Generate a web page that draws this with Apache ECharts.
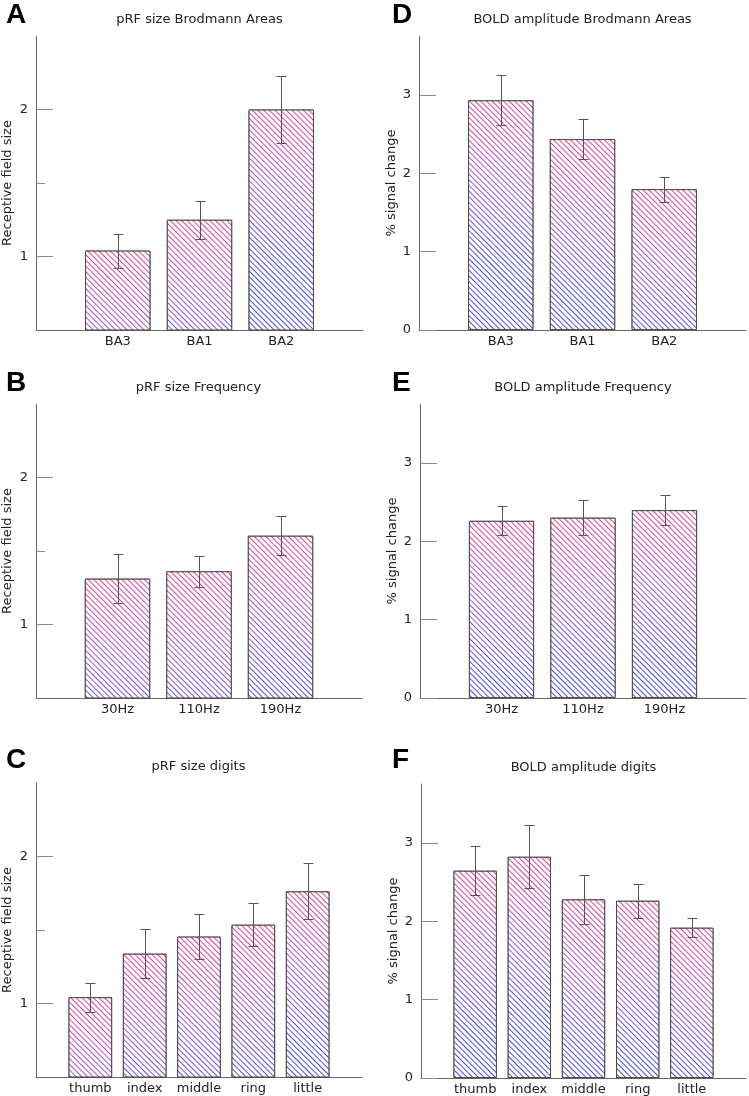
<!DOCTYPE html>
<html>
<head>
<meta charset="utf-8">
<script src="https://cdn.jsdelivr.net/npm/echarts@6/dist/echarts.min.js"></script>
<style>
  html, body { margin: 0; padding: 0; background: #fff; }
  #chart { width: 749px; height: 1096px; }
</style>
</head>
<body>
<div id="chart"></div>
<script>
// ---------- data ----------
const catsBA = ['BA3', 'BA1', 'BA2'];
const catsFreq = ['30Hz', '110Hz', '190Hz'];
const catsDigits = ['thumb', 'index', 'middle', 'ring', 'little'];

const prfBA = [1.04, 1.25, 2.0];
const prfBALo = [0.92, 1.12, 1.77];
const prfBAHi = [1.155, 1.375, 2.23];

const boldBA = [2.93, 2.435, 1.797];
const boldBALo = [2.61, 2.18, 1.635];
const boldBAHi = [3.256, 2.69, 1.954];

const prfFreq = [1.312, 1.362, 1.604];
const prfFreqLo = [1.149, 1.256, 1.473];
const prfFreqHi = [1.48, 1.466, 1.735];

const boldFreq = [2.26, 2.30, 2.396];
const boldFreqLo = [2.077, 2.082, 2.21];
const boldFreqHi = [2.452, 2.524, 2.584];

const prfDig = [1.043, 1.339, 1.455, 1.536, 1.763];
const prfDigLo = [0.942, 1.172, 1.301, 1.389, 1.573];
const prfDigHi = [1.138, 1.505, 1.611, 1.681, 1.959];

const boldDig = [2.644, 2.822, 2.278, 2.261, 1.917];
const boldDigLo = [2.333, 2.427, 1.963, 2.036, 1.794];
const boldDigHi = [2.953, 3.225, 2.593, 2.478, 2.045];

const prfTickLabels = [1, 2];
const prfMinorTicks = [1.5];
const boldTickLabels = [0, 1, 2, 3];

// ---------- layout ----------
const FONT = 'DejaVu Sans';
const panels = [
  { letter: 'A', title: 'pRF size Brodmann Areas', yName: 'Receptive field size',
    cats: catsBA, vals: prfBA, lo: prfBALo, hi: prfBAHi, yMin: 0.5, yMax: 2.5,
    ticks: prfTickLabels, minor: prfMinorTicks,
    grid: { left: 36, top: 36, width: 327, height: 294 }, titleY: 20, letterY: 15, nameGap: 22 },
  { letter: 'D', title: 'BOLD amplitude Brodmann Areas', yName: '% signal change',
    cats: catsBA, vals: boldBA, lo: boldBALo, hi: boldBAHi, yMin: 0, yMax: 3.75,
    ticks: boldTickLabels, minor: [],
    grid: { left: 419, top: 36, width: 327, height: 294 }, titleY: 20, letterY: 15, nameGap: 21 },
  { letter: 'B', title: 'pRF size Frequency', yName: 'Receptive field size',
    cats: catsFreq, vals: prfFreq, lo: prfFreqLo, hi: prfFreqHi, yMin: 0.5, yMax: 2.5,
    ticks: prfTickLabels, minor: prfMinorTicks,
    grid: { left: 35, top: 404, width: 327, height: 294 }, titleY: 388, letterY: 383, nameGap: 22 },
  { letter: 'E', title: 'BOLD amplitude Frequency', yName: '% signal change',
    cats: catsFreq, vals: boldFreq, lo: boldFreqLo, hi: boldFreqHi, yMin: 0, yMax: 3.75,
    ticks: boldTickLabels, minor: [],
    grid: { left: 420, top: 404, width: 326, height: 294 }, titleY: 388, letterY: 383, nameGap: 21 },
  { letter: 'C', title: 'pRF size digits', yName: 'Receptive field size',
    cats: catsDigits, vals: prfDig, lo: prfDigLo, hi: prfDigHi, yMin: 0.5, yMax: 2.5,
    ticks: prfTickLabels, minor: prfMinorTicks,
    grid: { left: 35, top: 783, width: 327, height: 294 }, titleY: 767, letterY: 760, nameGap: 22 },
  { letter: 'F', title: 'BOLD amplitude digits', yName: '% signal change',
    cats: catsDigits, vals: boldDig, lo: boldDigLo, hi: boldDigHi, yMin: 0, yMax: 3.75,
    ticks: boldTickLabels, minor: [],
    grid: { left: 421, top: 784, width: 325, height: 294 }, titleY: 768, letterY: 760, nameGap: 21 }
];

const PINK = '#e8409c';
const PURPLE = '#a055d4';
const BLUE = '#4a4ae6';
const GRAD_LEN = 160;  // px over which the hatch colour goes pink -> blue

// white stripes over a gradient fill leave thin coloured diagonal hatch lines
const HATCH_DECAL = {
  symbol: 'rect', symbolSize: 1, color: '#ffffff',
  dashArrayX: [1, 0], dashArrayY: [3, 1], rotation: Math.PI / 4
};

function errorBarRender(params, api) {
  const x = api.value(0), lo = api.value(1), hi = api.value(2);
  const pc = api.coord([x, hi]);
  const pl = api.coord([x, lo]);
  const cx = Math.round(pc[0]) + 0.5;
  const hy = Math.round(pc[1]) + 0.5, ly = Math.round(pl[1]) + 0.5;
  const ew = { stroke: '#555', lineWidth: 1 };
  return { type: 'group', children: [
    { type: 'line', shape: { x1: cx, y1: hy, x2: cx, y2: ly }, style: ew },
    { type: 'line', shape: { x1: cx - 5, y1: hy, x2: cx + 5, y2: hy }, style: ew },
    { type: 'line', shape: { x1: cx - 5, y1: ly, x2: cx + 5, y2: ly }, style: ew }
  ]};
}

const option = {
  animation: false,
  backgroundColor: '#fff',
  grid: [], xAxis: [], yAxis: [], series: [], graphic: []
};

panels.forEach((p, i) => {
  option.grid.push(Object.assign({ containLabel: false }, p.grid));
  const n = p.cats.length;
  option.xAxis.push({
    type: 'value', gridIndex: i, min: 0, max: n + 1, interval: 1,
    axisLine: { show: true, onZero: false, lineStyle: { color: '#666', width: 1 } },
    axisTick: { show: false }, splitLine: { show: false },
    axisLabel: { color: '#222', fontSize: 13, fontFamily: FONT, margin: 5,
      formatter: (val) => p.cats[val - 1] || '' }
  });
  option.yAxis.push({
    type: 'value', gridIndex: i, min: p.yMin, max: p.yMax, position: 'left',
    axisLine: { show: true, onZero: false, lineStyle: { color: '#666', width: 1 } },
    axisTick: { show: true, inside: true, length: 17, customValues: p.ticks,
      lineStyle: { color: '#8a8a8a', width: 1 } },
    axisLabel: { customValues: p.ticks, color: '#222', fontSize: 13, fontFamily: FONT, margin: 8 },
    splitLine: { show: false },
    name: p.yName, nameLocation: 'middle', nameGap: p.nameGap,
    nameTextStyle: { color: '#222', fontSize: 13, fontFamily: FONT }
  });
  const yIdx = option.yAxis.length - 1;
  if (p.minor.length) {
    option.yAxis.push({
      type: 'value', gridIndex: i, min: p.yMin, max: p.yMax, position: 'left', offset: 0,
      axisLine: { show: false },
      axisTick: { show: true, inside: true, length: 9, customValues: p.minor,
        lineStyle: { color: '#8a8a8a', width: 1 } },
      axisLabel: { show: false }, splitLine: { show: false }
    });
  }
  const pxPerUnit = p.grid.height / (p.yMax - p.yMin);
  option.series.push({
    type: 'bar', xAxisIndex: i, yAxisIndex: yIdx, clip: true, z: 2,
    barWidth: 0.8 * p.grid.width / (n + 1),
    itemStyle: { borderColor: '#4a4a4a', borderWidth: 1, decal: HATCH_DECAL },
    emphasis: { disabled: true },
    data: p.vals.map((v, k) => {
      const h = Math.max(1, (v - p.yMin) * pxPerUnit);
      return {
        value: [k + 1, v],
        itemStyle: { color: { type: 'linear', x: 0, y: 0, x2: 0, y2: GRAD_LEN / h,
          colorStops: [{ offset: 0, color: PINK }, { offset: 0.5, color: PURPLE }, { offset: 1, color: BLUE }] } }
      };
    })
  });
  option.series.push({
    type: 'custom', xAxisIndex: i, yAxisIndex: yIdx, clip: false, z: 5,
    renderItem: errorBarRender,
    encode: { x: 0, y: [1, 2] },
    data: p.vals.map((v, k) => [k + 1, p.lo[k], p.hi[k]])
  });
  const cx = p.grid.left + p.grid.width / 2;
  option.graphic.push({ type: 'text', x: cx, y: p.titleY,
    style: { text: p.title, font: '13px "DejaVu Sans"', fill: '#222', align: 'center', verticalAlign: 'middle' } });
  const lx = i % 2 === 0 ? 6 : 392;
  option.graphic.push({ type: 'text', x: lx, y: p.letterY,
    style: { text: p.letter, font: 'bold 28px "Liberation Sans"', fill: '#000', align: 'left', verticalAlign: 'middle' } });
});

const chart = echarts.init(document.getElementById('chart'), null, { renderer: 'canvas' });
chart.setOption(option);
</script>
</body>
</html>
